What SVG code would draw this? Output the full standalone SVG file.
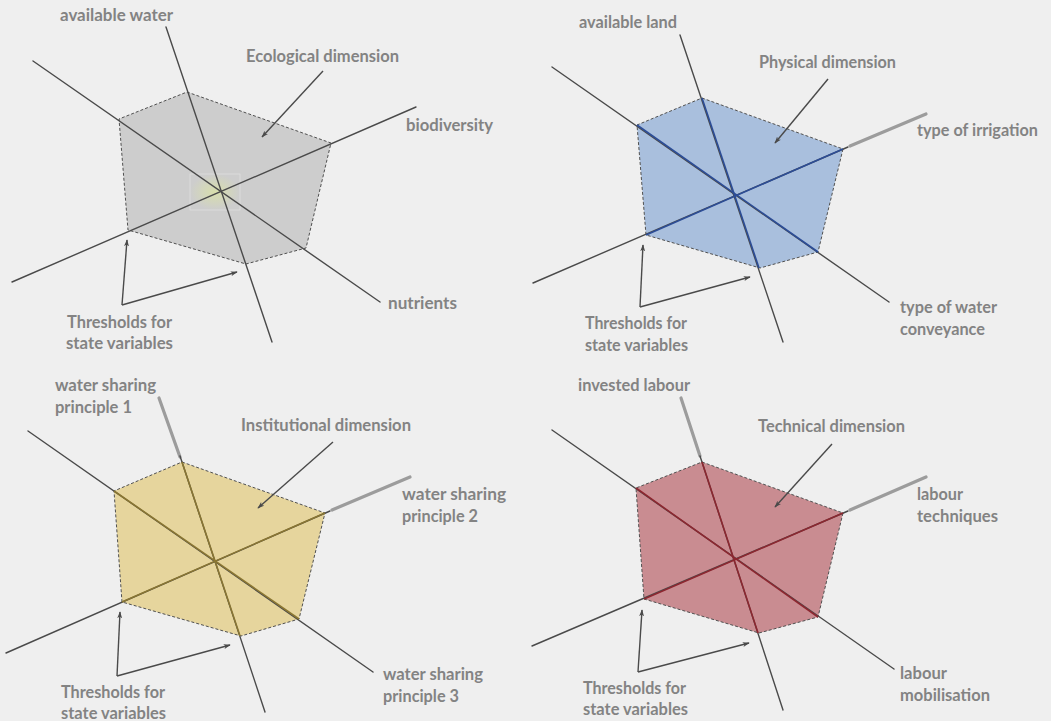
<svg xmlns="http://www.w3.org/2000/svg" width="1051" height="721" viewBox="0 0 1051 721">
  <style>
    .bg { fill: #efefef; }
    .hex { stroke: #505050; stroke-width: 1; stroke-dasharray: 3 2; }
    .axis { stroke: #4a4a4a; stroke-width: 1.4; fill: none; stroke-linecap: round; }
    .ext { stroke: #9c9c9c; stroke-width: 3.2; fill: none; stroke-linecap: round; }
    .conn { stroke: #4a4a4a; stroke-width: 1.4; fill: none; marker-end: url(#head); }
    .lbl { font-family: Lato, "Liberation Sans", sans-serif; font-size: 16.5px; font-weight: 700; fill: #838383; }
    .grey-in { stroke: #555555; stroke-width: 1.4; }
    .blue-in { stroke: #2c4d97; stroke-width: 1.6; }
    .gold-in { stroke: #8a7632; stroke-width: 1.6; }
    .red-in { stroke: #8d2730; stroke-width: 1.6; }
  </style>
  <defs>
    <marker id="head" viewBox="0 0 10 8" refX="9" refY="4" markerWidth="7" markerHeight="6" orient="auto" markerUnits="userSpaceOnUse">
      <path d="M0,0.5 L10,4 L0,7.5 L2.5,4 Z" fill="#4a4a4a"/>
    </marker>
    <radialGradient id="glow" cx="0.5" cy="0.5" r="0.5">
      <stop offset="0" stop-color="#d9e0a8" stop-opacity="0.9"/>
      <stop offset="1" stop-color="#d9e0a8" stop-opacity="0"/>
    </radialGradient>
  </defs>

  <rect class="bg" x="0" y="0" width="1051" height="721"/>

  <!-- Ecological dimension (grey) -->
  <g id="ecological">
    <polygon class="hex" fill="#cdcdcd" points="187,92 331,143 306,248 246,264 128,230 119,119"/>
    <rect x="190" y="174" width="50" height="36" fill="url(#glow)" stroke="#e4e4e4" stroke-width="0.6"/>
    <line class="axis" x1="166" y1="27" x2="272" y2="342"/>
    <line class="axis" x1="33" y1="61" x2="380" y2="302"/>
    <line class="axis" x1="12" y1="282" x2="416" y2="107"/>
    <text class="lbl" x="60" y="21" textLength="113" lengthAdjust="spacingAndGlyphs">available water</text>
    <text class="lbl" x="246" y="62" textLength="153" lengthAdjust="spacingAndGlyphs">Ecological dimension</text>
    <text class="lbl" x="406" y="131" textLength="87" lengthAdjust="spacingAndGlyphs">biodiversity</text>
    <text class="lbl" x="388" y="309" textLength="69" lengthAdjust="spacingAndGlyphs">nutrients</text>
    <text class="lbl" x="67" y="328" textLength="105" lengthAdjust="spacingAndGlyphs">Thresholds for</text>
    <text class="lbl" x="66" y="349" textLength="107" lengthAdjust="spacingAndGlyphs">state variables</text>
  </g>

  <!-- Physical dimension (blue) -->
  <g id="physical">
    <polygon class="hex" fill="#a9bfdd" points="702,98 843,149 818,252 760,268 646,235 637,125"/>
    <line class="axis" x1="680" y1="35" x2="783" y2="342"/>
    <line class="axis" x1="552" y1="67" x2="889" y2="302"/>
    <line class="axis" x1="533" y1="283" x2="848" y2="147"/>
    <line class="ext" x1="850" y1="146" x2="926" y2="114"/>
    <line class="blue-in" x1="702" y1="98" x2="759" y2="268"/>
    <line class="blue-in" x1="637" y1="125" x2="818" y2="252"/>
    <line class="blue-in" x1="646" y1="235" x2="843" y2="149"/>
    <text class="lbl" x="579" y="28" textLength="98" lengthAdjust="spacingAndGlyphs">available land</text>
    <text class="lbl" x="759" y="68" textLength="137" lengthAdjust="spacingAndGlyphs">Physical dimension</text>
    <text class="lbl" x="917" y="136" textLength="121" lengthAdjust="spacingAndGlyphs">type of irrigation</text>
    <text class="lbl" x="900" y="313" textLength="97" lengthAdjust="spacingAndGlyphs">type of water</text>
    <text class="lbl" x="900" y="335" textLength="85" lengthAdjust="spacingAndGlyphs">conveyance</text>
    <text class="lbl" x="585" y="329" textLength="102" lengthAdjust="spacingAndGlyphs">Thresholds for</text>
    <text class="lbl" x="585" y="351" textLength="103" lengthAdjust="spacingAndGlyphs">state variables</text>
  </g>

  <!-- Institutional dimension (gold) -->
  <g id="institutional">
    <polygon class="hex" fill="#e6d59d" points="182,462 325,513 299,619 241,636 122,602 114,491"/>
    <line class="ext" x1="159" y1="398" x2="180" y2="457"/>
    <line class="axis" x1="180" y1="456" x2="265" y2="712"/>
    <line class="axis" x1="28" y1="431" x2="373" y2="672"/>
    <line class="axis" x1="6" y1="653" x2="330" y2="511"/>
    <line class="ext" x1="332" y1="510" x2="410" y2="477"/>
    <line class="gold-in" x1="182" y1="462" x2="240" y2="636"/>
    <line class="gold-in" x1="114" y1="491" x2="299" y2="619"/>
    <line class="gold-in" x1="122" y1="602" x2="325" y2="513"/>
    <text class="lbl" x="55" y="391" textLength="101" lengthAdjust="spacingAndGlyphs">water sharing</text>
    <text class="lbl" x="55" y="413" textLength="77" lengthAdjust="spacingAndGlyphs">principle 1</text>
    <text class="lbl" x="241" y="431" textLength="170" lengthAdjust="spacingAndGlyphs">Institutional dimension</text>
    <text class="lbl" x="402" y="500" textLength="104" lengthAdjust="spacingAndGlyphs">water sharing</text>
    <text class="lbl" x="402" y="522" textLength="76" lengthAdjust="spacingAndGlyphs">principle 2</text>
    <text class="lbl" x="383" y="680" textLength="100" lengthAdjust="spacingAndGlyphs">water sharing</text>
    <text class="lbl" x="383" y="702" textLength="76" lengthAdjust="spacingAndGlyphs">principle 3</text>
    <text class="lbl" x="61" y="698" textLength="104" lengthAdjust="spacingAndGlyphs">Thresholds for</text>
    <text class="lbl" x="61" y="719" textLength="105" lengthAdjust="spacingAndGlyphs">state variables</text>
  </g>

  <!-- Technical dimension (red) -->
  <g id="technical">
    <polygon class="hex" fill="#c98c91" points="702,462 843,513 818,617 759,633 644,599 636,488"/>
    <line class="ext" x1="681" y1="398" x2="700" y2="456"/>
    <line class="axis" x1="700" y1="456" x2="783" y2="710"/>
    <line class="axis" x1="552" y1="430" x2="894" y2="669"/>
    <line class="axis" x1="532" y1="646" x2="848" y2="511"/>
    <line class="ext" x1="850" y1="510" x2="926" y2="477"/>
    <line class="red-in" x1="702" y1="462" x2="758" y2="633"/>
    <line class="red-in" x1="636" y1="488" x2="818" y2="617"/>
    <line class="red-in" x1="644" y1="599" x2="843" y2="513"/>
    <text class="lbl" x="578" y="391" textLength="112" lengthAdjust="spacingAndGlyphs">invested labour</text>
    <text class="lbl" x="758" y="432" textLength="147" lengthAdjust="spacingAndGlyphs">Technical dimension</text>
    <text class="lbl" x="917" y="500" textLength="46" lengthAdjust="spacingAndGlyphs">labour</text>
    <text class="lbl" x="917" y="522" textLength="81" lengthAdjust="spacingAndGlyphs">techniques</text>
    <text class="lbl" x="900" y="679" textLength="47" lengthAdjust="spacingAndGlyphs">labour</text>
    <text class="lbl" x="900" y="701" textLength="90" lengthAdjust="spacingAndGlyphs">mobilisation</text>
    <text class="lbl" x="583" y="694" textLength="103" lengthAdjust="spacingAndGlyphs">Thresholds for</text>
    <text class="lbl" x="583" y="715" textLength="105" lengthAdjust="spacingAndGlyphs">state variables</text>
  </g>

  <!-- Pointer arrows -->
  <g id="connectors">
    <line class="conn" x1="323" y1="71" x2="262" y2="137"/>
    <line class="conn" x1="122" y1="305" x2="127" y2="240"/>
    <line class="conn" x1="122" y1="305" x2="237" y2="272"/>

    <line class="conn" x1="828" y1="79" x2="775" y2="143"/>
    <line class="conn" x1="640" y1="307" x2="643" y2="245"/>
    <line class="conn" x1="640" y1="307" x2="750" y2="277"/>

    <line class="conn" x1="333" y1="442" x2="258" y2="508"/>
    <line class="conn" x1="117" y1="676" x2="120" y2="612"/>
    <line class="conn" x1="117" y1="676" x2="230" y2="645"/>

    <line class="conn" x1="832" y1="444" x2="775" y2="507"/>
    <line class="conn" x1="638" y1="672" x2="642" y2="610"/>
    <line class="conn" x1="638" y1="672" x2="749" y2="643"/>
  </g>
</svg>
